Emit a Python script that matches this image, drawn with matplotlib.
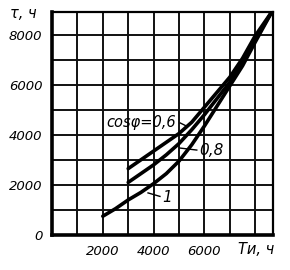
import matplotlib
matplotlib.use("Agg")
import matplotlib.pyplot as plt

# data
x_1 = [2000, 2500, 3000, 3500, 4000, 4500, 5000, 5500, 6000, 6500, 7000, 7500, 8000, 8650]
y_1 = [750, 1050, 1400, 1700, 2050, 2450, 2950, 3600, 4350, 5150, 5950, 6750, 7700, 8900]
x_08 = [3000, 3500, 4000, 4500, 5000, 5500, 6000, 6500, 7000, 7500, 8000, 8650]
y_08 = [2100, 2450, 2800, 3200, 3650, 4200, 4800, 5450, 6100, 6900, 7800, 8900]
x_06 = [3000, 3500, 4000, 4500, 5000, 5500, 6000, 6500, 7000, 7500, 8000, 8650]
y_06 = [2650, 3000, 3350, 3700, 4050, 4500, 5100, 5700, 6300, 7050, 7950, 8900]
x_ticks = [2000, 4000, 6000]
y_ticks = [0, 2000, 4000, 6000, 8000]

plt.rcParams['font.family'] = ['DejaVu Sans']
fig = plt.figure(figsize=(2.9, 2.7), dpi=100)
ax = fig.add_axes([52/290, 1-235/270, (273-52)/290, (235-12)/270])
ax.set_xlim(0, 8700)
ax.set_ylim(0, 8900)

for v in range(1000, 9000, 1000):
    ax.axvline(v, color='#111', lw=1.4, zorder=1)
    ax.axhline(v, color='#111', lw=1.4, zorder=1)

for xs, ys in [(x_1, y_1), (x_08, y_08), (x_06, y_06)]:
    ax.plot(xs, ys, color='black', lw=2.6, solid_capstyle='round', zorder=3)

for s in ['left', 'bottom']:
    ax.spines[s].set_linewidth(2.6)
for s in ['top', 'right']:
    ax.spines[s].set_linewidth(1.6)

ax.set_xticks(x_ticks)
ax.set_yticks(y_ticks)
ax.set_xticklabels([str(t) for t in x_ticks], fontstyle='italic', fontsize=9.5)
ax.set_yticklabels([str(t) for t in y_ticks], fontstyle='italic', fontsize=9.5)
ax.tick_params(length=0, pad=7)

fig.text(238/290, 1-250/270, 'Tи, ч', fontstyle='italic', fontsize=10.5, va='center', ha='left')
fig.text(10/290, 1-13/270, 'τ, ч', fontstyle='italic', fontsize=10.5, va='center', ha='left')

# annotations
ax.text(2150, 4500, 'cosφ=0,6', fontstyle='italic', fontsize=10.5, va='center', ha='left',
        zorder=4)
ax.plot([5050, 5330], [4470, 4330], color='black', lw=1)
ax.text(5800, 3390, '0,8', fontstyle='italic', fontsize=11, va='center', ha='left')
ax.plot([5040, 5700], [3470, 3390], color='black', lw=1)
ax.text(4330, 1480, '1', fontstyle='italic', fontsize=11, va='center', ha='left')
ax.plot([3780, 4250], [1680, 1540], color='black', lw=1)

fig.savefig('out.png', dpi=100)
